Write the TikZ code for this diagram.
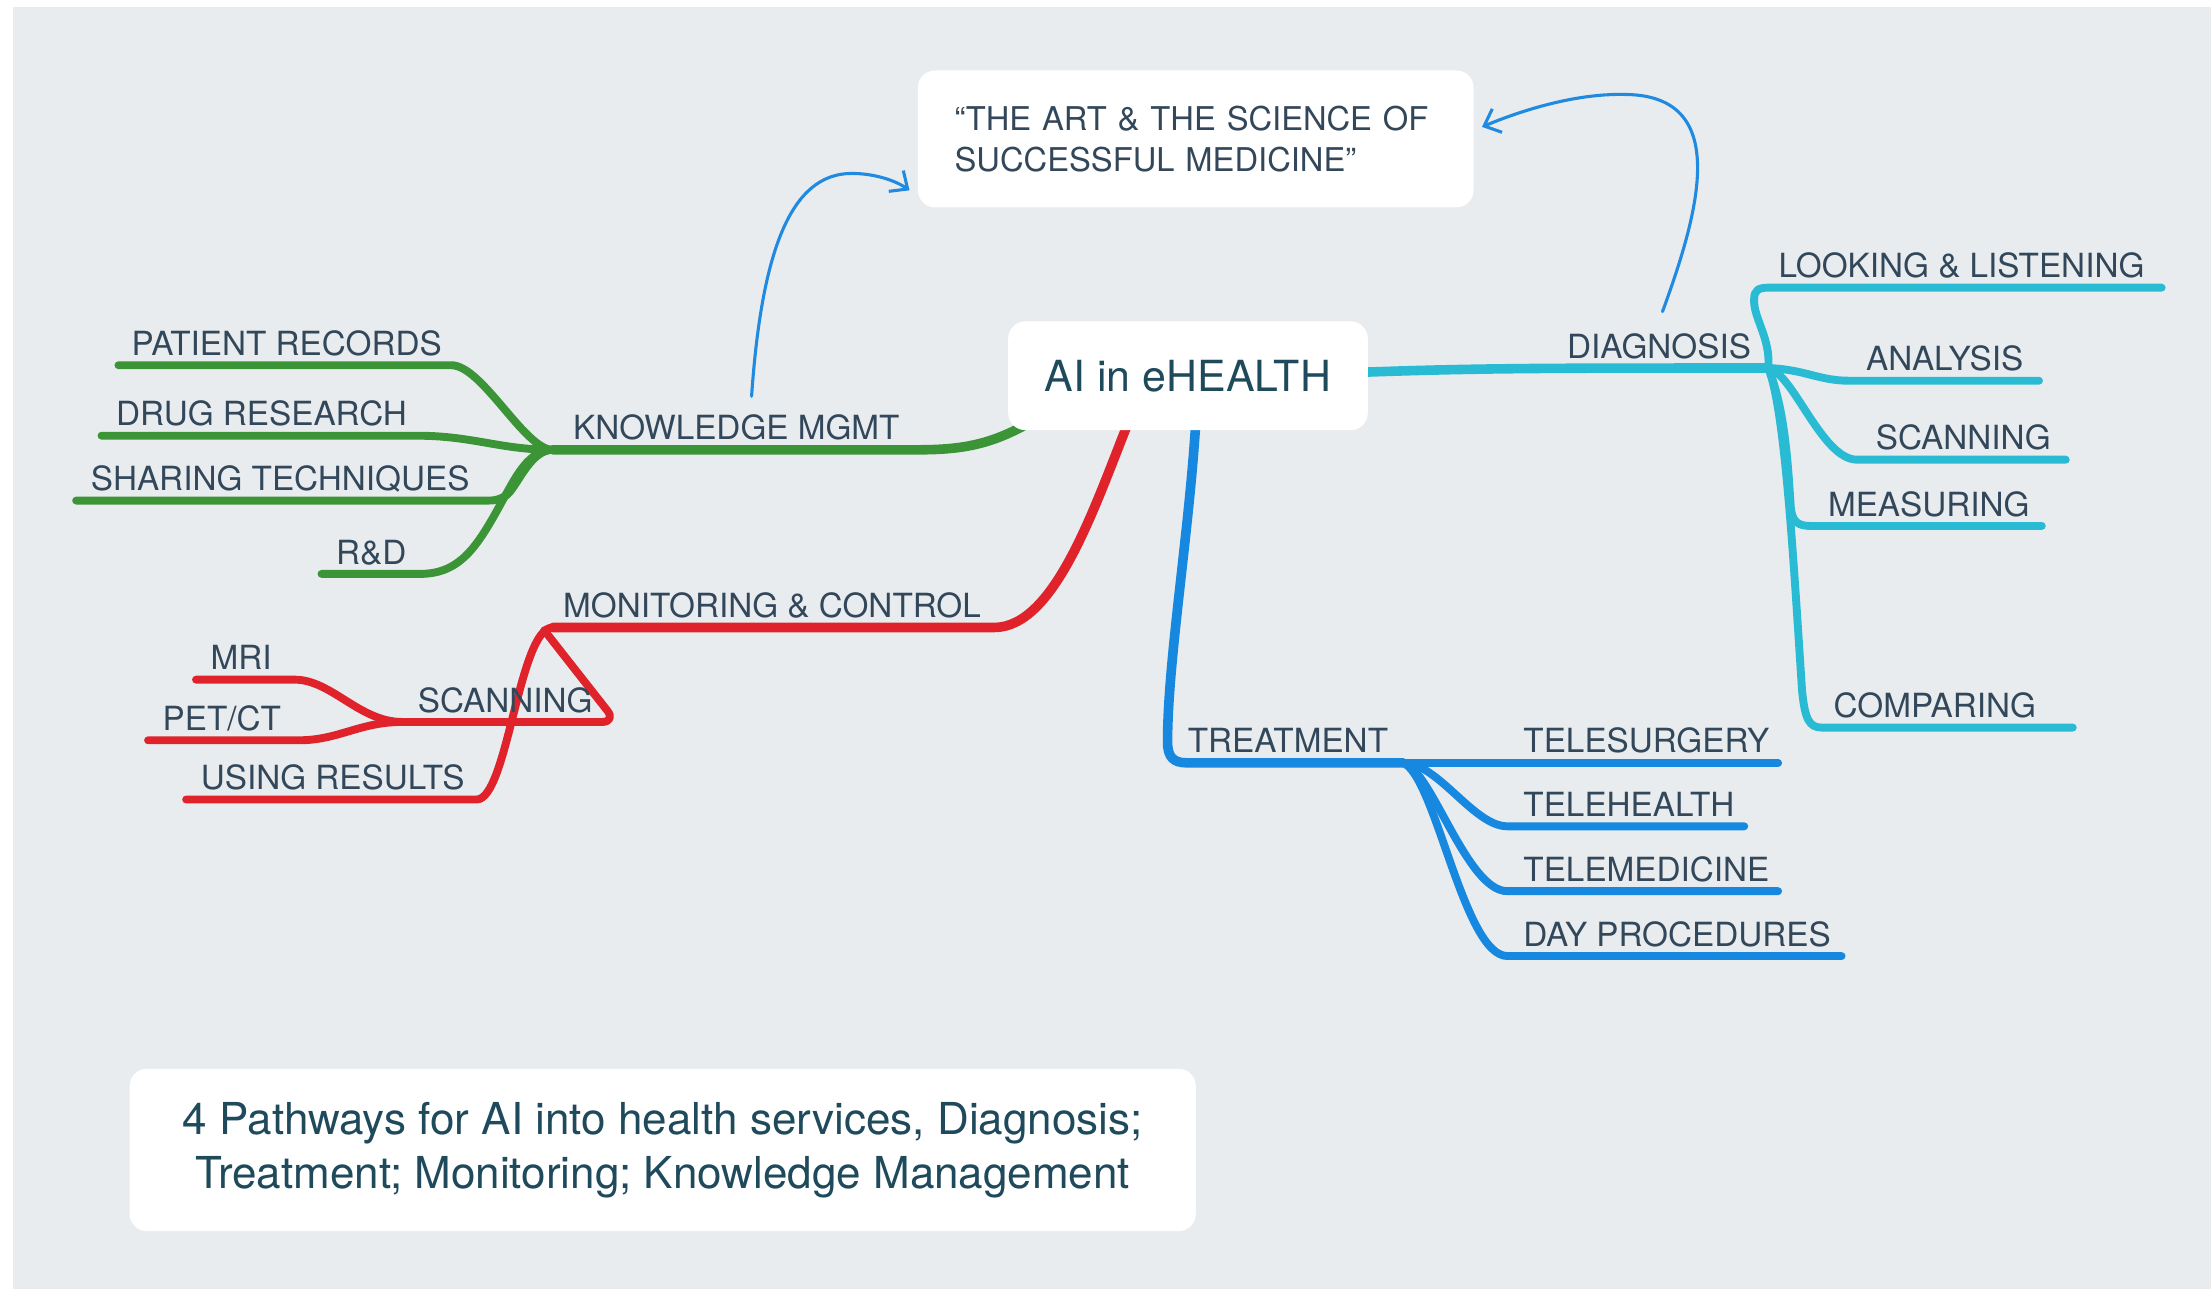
\documentclass[tikz,border=0pt]{standalone}
\usepackage{fontspec}
\setmainfont{TeX Gyre Heros}
\usetikzlibrary{arrows.meta}
\definecolor{bggray}{HTML}{E8ECEF}
\definecolor{txtc}{HTML}{33475A}
\definecolor{bigc}{HTML}{1F4A5C}
\definecolor{kmc}{HTML}{3B9537}
\definecolor{mcc}{HTML}{E0232B}
\definecolor{trc}{HTML}{1788DF}
\definecolor{dgc}{HTML}{29BBD3}
\definecolor{linkc}{HTML}{2089E0}
\begin{document}
\begin{tikzpicture}[x=0.5pt,y=-0.5pt,
  lbl/.style={anchor=base west, inner sep=0pt, text=txtc, font=\fontsize{11.8}{13}\selectfont},
  mainbr/.style={line width=3.4pt, line cap=round, line join=round},
  subbr/.style={line width=2.8pt, line cap=round, line join=round},
  link/.style={draw=linkc, line width=1.1pt, line cap=round, -{Straight Barb[length=5pt,width=9pt]}},
  boxnode/.style={fill=white, rounded corners=6pt, inner sep=0pt}]
\useasboundingbox (0,0) rectangle (1568,914);
\fill[white] (0,0) rectangle (1568,914);
\fill[bggray] (9,5) rectangle (1568,914);

% hubs and roots
\coordinate (rg) at (726,302);
\coordinate (rr) at (800,300);
\coordinate (rb) at (848,300);
\coordinate (rc) at (966,264);
\coordinate (km) at (392,319);
\coordinate (mc) at (392,445);
\coordinate (sc) at (285,512);
\coordinate (tr) at (995,541);
\coordinate (dg) at (1254,261);
% free ends
\coordinate (pr-e) at (84,259);
\coordinate (dr-e) at (72,309);
\coordinate (st-e) at (54,355);
\coordinate (rd-e) at (228,407);
\coordinate (mri-e) at (139,482);
\coordinate (pet-e) at (105,525);
\coordinate (ur-e) at (132,567);
\coordinate (ts-e) at (1261,541);
\coordinate (th-e) at (1237,586);
\coordinate (tm-e) at (1261,632);
\coordinate (dp-e) at (1306,678);
\coordinate (ll-e) at (1533,204);
\coordinate (an-e) at (1446,270);
\coordinate (sn-e) at (1465,326);
\coordinate (me-e) at (1448,373);
\coordinate (co-e) at (1470,516);

% ---------- green: knowledge mgmt
\draw[mainbr,kmc] (rg) .. controls (700,316) and (680,319) .. (650,319) -- (km);
\draw[subbr,kmc] (km) .. controls (372,319) and (342,259) .. (320,259) -- (pr-e);
\draw[subbr,kmc] (km) .. controls (355,319) and (335,309) .. (296,309) -- (dr-e);
\draw[subbr,kmc] (km) .. controls (375,319) and (366,348) .. (358,352) .. controls (354,354) and (352,355) .. (346,355) -- (st-e);
\draw[subbr,kmc] (km) .. controls (375,319) and (366,338) .. (358,352) .. controls (340,385) and (328,407) .. (298,407) -- (rd-e);

% ---------- red: monitoring & control
\draw[mainbr,mcc] (rr) .. controls (776,360) and (748,445) .. (705,445) -- (mc);
\draw[subbr,mcc] (mc) .. controls (368,445) and (360,567) .. (338,567) -- (ur-e);
\draw[subbr,mcc,rounded corners=5pt] (386,447) -- (437,512) -- (sc);
\draw[subbr,mcc] (sc) .. controls (255,512) and (235,482) .. (209,482) -- (mri-e);
\draw[subbr,mcc] (sc) .. controls (255,512) and (240,525) .. (212,525) -- (pet-e);

% ---------- blue: treatment
\draw[mainbr,trc] (rb) .. controls (843,380) and (828,470) .. (828,526) .. controls (828,537) and (832,541) .. (842,541) -- (tr);
\draw[subbr,trc] (tr) -- (ts-e);
\draw[subbr,trc] (tr) .. controls (1020,541) and (1045,586) .. (1069,586) -- (th-e);
\draw[subbr,trc] (tr) .. controls (1015,545) and (1040,632) .. (1069,632) -- (tm-e);
\draw[subbr,trc] (tr) .. controls (1018,550) and (1038,678) .. (1069,678) -- (dp-e);

% ---------- cyan: diagnosis
\draw[mainbr,dgc] (rc) .. controls (1050,261) and (1100,261) .. (dg);
\draw[subbr,dgc] (dg) .. controls (1256,240) and (1243,225) .. (1244,212) .. controls (1244,206) and (1247,204) .. (1254,204) -- (ll-e);
\draw[subbr,dgc] (dg) .. controls (1280,262) and (1290,270) .. (1311,270) -- (an-e);
\draw[subbr,dgc] (dg) .. controls (1272,265) and (1292,326) .. (1317,326) -- (sn-e);
\draw[subbr,dgc] (dg) .. controls (1266,290) and (1268,330) .. (1270,360) .. controls (1271,370) and (1275,373) .. (1284,373) -- (me-e);
\draw[subbr,dgc] (dg) .. controls (1266,290) and (1272,400) .. (1278,490) .. controls (1280,510) and (1283,516) .. (1292,516) -- (co-e);

% ---------- boxes
\node[boxnode, minimum width=197pt, minimum height=48.5pt, inner xsep=13pt, text width=171pt, align=left, text=txtc, font=\fontsize{11.6}{14.5}\selectfont] (quote) at (848,98.5) {“THE ART \& THE SCIENCE OF\\SUCCESSFUL MEDICINE”};
\node[boxnode, minimum width=127.5pt, minimum height=38.5pt, text=bigc, font=\fontsize{15.2}{18}\selectfont] (ai) at (842.5,266.5) {AI in eHEALTH};
\node[boxnode, minimum width=378pt, minimum height=57.5pt, align=center, text=bigc, font=\fontsize{15.6}{19}\selectfont] (caption) at (470,815.5) {4 Pathways for AI into health services, Diagnosis;\\Treatment; Monitoring; Knowledge Management};

% ---------- labels
\node[lbl] (kml) at (406,312) {KNOWLEDGE MGMT};
\node[lbl] (prl) at (93,252) {PATIENT RECORDS};
\node[lbl] (drl) at (82,302) {DRUG RESEARCH};
\node[lbl] (stl) at (64,348) {SHARING TECHNIQUES};
\node[lbl] (rdl) at (238,400) {R\&D};
\node[lbl] (mcl) at (399,438) {MONITORING \& CONTROL};
\node[lbl] (scl) at (296,505) {SCANNING};
\node[lbl] (mril) at (149,475) {MRI};
\node[lbl] (petl) at (115,518) {PET/CT};
\node[lbl] (url) at (142,560) {USING RESULTS};
\node[lbl] (trl) at (842,534) {TREATMENT};
\node[lbl] (tsl) at (1080,534) {TELESURGERY};
\node[lbl] (thl) at (1080,579) {TELEHEALTH};
\node[lbl] (tml) at (1080,625) {TELEMEDICINE};
\node[lbl] (dpl) at (1080,671) {DAY PROCEDURES};
\node[lbl] (dgl) at (1111,254) {DIAGNOSIS};
\node[lbl] (lll) at (1261,197) {LOOKING \& LISTENING};
\node[lbl] (anl) at (1323,263) {ANALYSIS};
\node[lbl] (snl) at (1330,319) {SCANNING};
\node[lbl] (mel) at (1296,366) {MEASURING};
\node[lbl] (col) at (1300,509) {COMPARING};

% ---------- links to the quote
\coordinate (kmtop) at (533,281);
\coordinate (dgtop) at (1179,221);
\coordinate (qin1) at (645,135);
\coordinate (qin2) at (1051,90);
\draw[link] (kmtop) .. controls (540,180) and (560,123) .. (604,123) .. controls (620,123) and (635,128) .. (qin1);
\draw[link] (dgtop) .. controls (1205,150) and (1228,68) .. (1153,67) .. controls (1115,66) and (1075,80) .. (qin2);
\end{tikzpicture}
\end{document}
